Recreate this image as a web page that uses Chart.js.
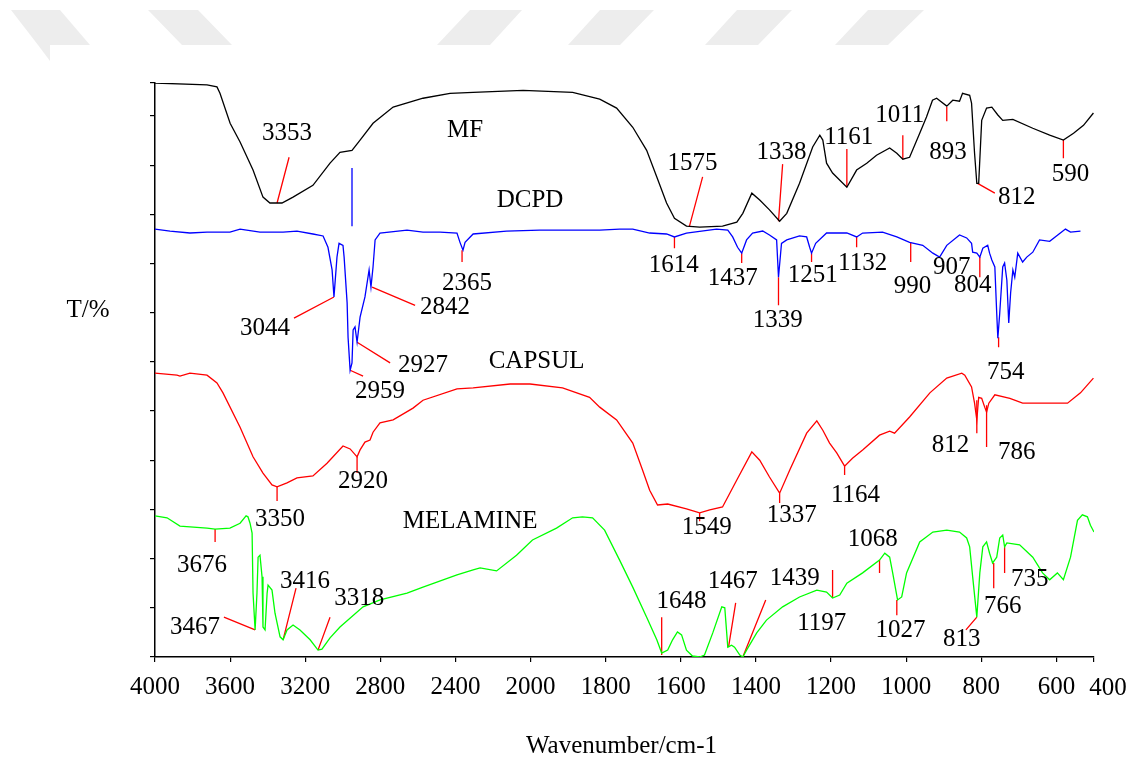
<!DOCTYPE html>
<html>
<head>
<meta charset="utf-8">
<title>FTIR spectra</title>
<script src="https://cdn.jsdelivr.net/npm/chart.js@4.4.0/dist/chart.umd.min.js"></script>
<style>
  html, body { margin:0; padding:0; background:#fff; }
  #wrap { position:relative; width:1134px; height:760px; }
</style>
</head>
<body>
<div id="wrap"><canvas id="ftir"></canvas></div>
<script>
// --- axis -----------------------------------------------------------------
const X_TICK_LABELS = [4000, 3600, 3200, 2800, 2400, 2000, 1800, 1600, 1400, 1200, 1000, 800, 600, 400];
// the wavenumber axis is broken: 4000-2000 is compressed, 2000-600 expanded, 600-400 compressed
const AXIS_BREAK_WN  = [4000, 2000, 600, 400];
const AXIS_BREAK_POS = [0, 5, 12, 12.5];
const Y_MAX = 11.67;

// --- spectra (wavenumber cm-1 / transmittance, offset units) -------------
const MF_WN = [4000,3723,3670,3654,3600,3547,3478,3425,3388,3324,3265,3159,3068,3015,2951,2908,2839,2732,2573,2429,2306,2040,1888,1816,1771,1728,1691,1664,1638,1617,1585,1550,1489,1451,1435,1411,1390,1364,1337,1318,1284,1249,1230,1222,1212,1196,1158,1132,1105,1079,1044,1025,1009,991,964,946,930,919,892,876,858,850,831,826,818,812,807,799,786,772,756,743,716,663,618,563,509,456,403];
const MF_T  = [11.67,11.63,11.59,11.46,10.85,10.47,9.90,9.35,9.23,9.23,9.35,9.59,10.04,10.26,10.30,10.51,10.85,11.18,11.36,11.46,11.48,11.52,11.48,11.34,11.16,10.77,10.30,9.76,9.23,8.92,8.76,8.74,8.76,8.84,9.02,9.43,9.29,9.09,8.86,9.02,9.63,10.37,10.61,10.51,10.04,9.84,9.55,9.90,10.04,10.20,10.35,10.24,10.12,10.16,10.65,10.98,11.32,11.36,11.20,11.32,11.30,11.46,11.42,11.26,10.24,9.63,9.63,10.91,11.16,11.18,11.02,10.91,10.93,10.75,10.61,10.51,10.65,10.81,11.06];

const DCPD_WN = [4000,3920,3814,3723,3601,3547,3441,3318,3244,3159,3105,3079,3057,3047,3031,3020,2999,2993,2977,2972,2961,2951,2945,2935,2924,2908,2882,2860,2850,2839,2828,2802,2658,2573,2482,2392,2376,2360,2349,2306,2128,1976,1816,1763,1728,1683,1638,1617,1585,1505,1475,1462,1449,1438,1425,1409,1382,1364,1345,1340,1332,1318,1284,1265,1257,1252,1241,1212,1158,1132,1116,1063,1025,991,956,929,911,892,858,839,826,823,812,804,796,783,778,772,764,759,756,751,743,738,732,727,722,716,711,703,690,679,663,645,618,552,525,472];
const DCPD_T  = [8.70,8.66,8.62,8.64,8.64,8.70,8.64,8.64,8.66,8.60,8.56,8.33,7.87,7.32,8.13,8.41,8.37,8.13,7.20,6.50,5.83,5.98,6.65,6.71,6.40,6.91,7.32,7.87,7.52,7.93,8.48,8.62,8.68,8.64,8.64,8.62,8.43,8.27,8.43,8.60,8.66,8.68,8.68,8.70,8.70,8.62,8.60,8.54,8.62,8.70,8.68,8.54,8.33,8.21,8.48,8.62,8.66,8.58,8.48,7.72,8.41,8.48,8.56,8.54,8.33,8.21,8.41,8.62,8.62,8.54,8.62,8.64,8.54,8.43,8.37,8.21,8.13,8.37,8.58,8.52,8.41,8.23,8.21,8.13,8.31,8.37,8.21,8.07,7.93,6.99,6.48,6.99,7.93,8.01,7.66,6.79,7.40,7.87,7.72,8.21,8.03,8.13,8.23,8.48,8.45,8.70,8.64,8.66];
const DCPD_MARK_WN = [2951, 2951];
const DCPD_MARK_T  = [9.94, 8.76];

const CAPSUL_WN = [4000,3883,3867,3814,3723,3670,3638,3547,3478,3425,3377,3350,3297,3244,3159,3084,2999,2961,2924,2908,2882,2855,2839,2802,2732,2626,2573,2392,2306,2109,2003,1915,1843,1816,1771,1728,1702,1683,1662,1635,1585,1550,1523,1489,1451,1411,1390,1364,1337,1310,1265,1238,1222,1204,1185,1164,1143,1116,1071,1044,1031,991,937,892,852,844,826,818,812,807,799,791,786,780,764,724,690,541,472,403];
const CAPSUL_T  = [5.77,5.73,5.71,5.77,5.73,5.57,5.37,4.67,4.07,3.74,3.50,3.46,3.54,3.64,3.68,3.94,4.29,4.23,4.07,4.21,4.37,4.41,4.57,4.76,4.82,5.06,5.22,5.45,5.47,5.55,5.55,5.47,5.28,5.08,4.82,4.35,3.80,3.39,3.09,3.11,3.01,2.93,2.99,3.05,3.60,4.17,4.00,3.66,3.33,3.80,4.55,4.80,4.61,4.35,4.15,3.88,4.04,4.21,4.51,4.59,4.55,4.88,5.37,5.67,5.77,5.73,5.49,5.16,4.82,5.28,5.26,5.08,4.98,5.16,5.33,5.26,5.16,5.16,5.37,5.67];

const MELAMINE_WN = [4000,3936,3867,3723,3680,3601,3547,3515,3505,3494,3483,3478,3467,3457,3451,3441,3430,3425,3414,3403,3398,3377,3361,3334,3318,3297,3265,3228,3174,3132,3111,3068,3015,2892,2802,2658,2573,2392,2306,2269,2181,2075,1995,1931,1888,1862,1835,1803,1763,1728,1691,1664,1651,1635,1622,1609,1598,1585,1569,1550,1537,1515,1491,1483,1475,1465,1457,1443,1435,1425,1398,1372,1329,1284,1238,1212,1196,1177,1158,1116,1071,1057,1044,1036,1023,1012,999,964,929,892,858,839,831,823,812,804,796,786,778,770,759,751,743,738,732,698,663,637,618,595,563,525,488,462,435,419,400];
const MELAMINE_T  = [2.87,2.83,2.66,2.62,2.60,2.62,2.72,2.87,2.85,2.72,2.52,1.30,0.55,1.30,2.03,2.07,1.63,0.61,0.55,1.30,1.46,1.36,0.89,0.41,0.35,0.55,0.65,0.55,0.35,0.14,0.16,0.39,0.61,1.02,1.16,1.30,1.42,1.67,1.77,1.81,1.75,2.07,2.38,2.62,2.83,2.85,2.83,2.58,1.97,1.42,0.81,0.35,0.08,0.14,0.35,0.51,0.45,0.14,0.02,0.00,0.04,0.49,1.02,1.00,0.20,0.24,0.20,0.04,0.00,0.14,0.49,0.75,1.02,1.22,1.36,1.32,1.20,1.26,1.50,1.71,1.97,2.11,2.03,1.71,1.16,1.22,1.71,2.34,2.54,2.58,2.54,2.42,2.24,1.63,0.81,1.71,2.24,2.34,2.11,1.91,2.03,2.42,2.48,2.24,2.32,2.28,2.03,1.71,1.57,1.71,1.57,2.03,2.78,2.89,2.85,2.68,2.54];

// --- peak labels: text, leader from (wn,t) to (wn,t), text at (wn,t); leader null = no leader
const PEAKS_MF = [
  ['3353', 3350, 9.23, 3286, 10.16, 3297, 10.65],
  ['1575', 1577, 8.76, 1542, 9.76, 1569, 10.04],
  ['1338', 1340, 8.86, 1329, 10.02, 1332, 10.26],
  ['1161', 1158, 9.57, 1158, 10.33, 1153, 10.57],
  ['1011', 1009, 10.12, 1009, 10.61, 1017, 11.02],
  ['893', 892, 11.18, 892, 10.89, 889, 10.26],
  ['812', 810, 9.63, 764, 9.43, 706, 9.35],
  ['590', 563, 10.51, 563, 10.14, 525, 9.82],
];
const PEAKS_DCPD = [
  ['3044', 3047, 7.32, 3260, 6.89, 3414, 6.67],
  ['2842', 2844, 7.52, 2615, 7.15, 2456, 7.11],
  ['2365', 2365, 8.27, 2365, 8.03, 2338, 7.60],
  ['2927', 2924, 6.40, 2748, 5.98, 2573, 5.93],
  ['2959', 2961, 5.83, 2892, 5.71, 2802, 5.39],
  ['1614', 1617, 8.54, 1617, 8.31, 1619, 7.97],
  ['1437', 1438, 8.21, 1438, 8.01, 1462, 7.70],
  ['1339', 1340, 7.72, 1340, 7.15, 1342, 6.85],
  ['1251', 1252, 8.21, 1252, 8.03, 1249, 7.76],
  ['1132', 1132, 8.56, 1132, 8.33, 1116, 8.01],
  ['990', 988, 8.43, 988, 8.03, 983, 7.54],
  ['907', null, null, null, null, 879, 7.93],
  ['804', 804, 8.13, 804, 7.72, 823, 7.56],
  ['754', 754, 6.50, 754, 6.30, 735, 5.79],
];
const PEAKS_CAPSUL = [
  ['3350', 3350, 3.46, 3350, 3.17, 3334, 2.80],
  ['2920', 2924, 4.07, 2924, 3.74, 2892, 3.56],
  ['1549', 1550, 2.93, 1550, 2.76, 1531, 2.64],
  ['1337', 1337, 3.33, 1337, 3.13, 1305, 2.87],
  ['1164', 1164, 3.88, 1164, 3.70, 1135, 3.29],
  ['812', 812, 5.22, 812, 4.55, 882, 4.31],
  ['786', 786, 5.12, 786, 4.27, 706, 4.15],
];
const PEAKS_MELAMINE = [
  ['3676', 3680, 2.60, 3680, 2.34, 3750, 1.87],
  ['3467', 3467, 0.55, 3633, 0.81, 3787, 0.61],
  ['3416', 3318, 0.35, 3249, 1.40, 3201, 1.54],
  ['3318', 3132, 0.14, 3068, 0.81, 2913, 1.20],
  ['1648', 1651, 0.04, 1651, 0.81, 1598, 1.12],
  ['1467', 1473, 0.20, 1454, 1.10, 1462, 1.54],
  ['1439', 1435, 0.00, 1374, 1.16, 1297, 1.59],
  ['1197', 1196, 1.20, 1196, 1.77, 1225, 0.69],
  ['1068', 1071, 1.97, 1071, 1.71, 1089, 2.38],
  ['1027', 1025, 1.16, 1025, 0.85, 1015, 0.55],
  ['813', 812, 0.81, 841, 0.55, 852, 0.35],
  ['766', 767, 1.91, 767, 1.40, 743, 1.02],
  ['735', 738, 2.24, 738, 1.71, 671, 1.57],
];

const SERIES_NAMES   = ['MF', 'DCPD', 'CAPSUL', 'MELAMINE'];
const SERIES_NAME_WN = [2349, 2003, 1984, 2322];
const SERIES_NAME_T  = [10.71, 9.29, 6.00, 2.76];

// --------------------------------------------------------------------------
const SERIF = '"Liberation Serif", "Times New Roman", serif';
const LAST_TICK = X_TICK_LABELS.length - 1;

function wnPos(w){
  const n = AXIS_BREAK_WN.length;
  for(let i=0;i<n-1;i++){
    const a = AXIS_BREAK_WN[i], b = AXIS_BREAK_WN[i+1];
    if(w >= b || i === n-2){
      return AXIS_BREAK_POS[i] + (a-w)/(a-b)*(AXIS_BREAK_POS[i+1]-AXIS_BREAK_POS[i]);
    }
  }
}
const pts = (wn, t) => wn.map((w,i) => ({ x: wnPos(w), y: t[i] }));

function leaderPoints(){
  const out = [];
  [PEAKS_MF, PEAKS_DCPD, PEAKS_CAPSUL, PEAKS_MELAMINE].forEach(list => list.forEach(p => {
    if(p[1] == null) return;
    out.push({ x: wnPos(p[1]), y: p[2] }, { x: wnPos(p[3]), y: p[4] }, { x: wnPos(p[3]), y: null });
  }));
  return out;
}

function spectrum(label, data, color){
  return { label, data, borderColor: color, borderWidth: 1.3, pointRadius: 0, showLine: true, tension: 0, fill: false };
}

// grey banner pieces above the plot (top edge y=10, bottom edge y=45)
const bannerPlugin = {
  id: 'banner',
  beforeDraw(chart){
    const ctx = chart.ctx;
    const pieces = [[11,60,38,90],[148,198,182,232],[470,522,437,490],[600,654,568,620],[737,792,705,758],[868,924,835,888]];
    ctx.save();
    ctx.fillStyle = '#ededed';
    pieces.forEach(([t0,t1,b0,b1]) => {
      ctx.beginPath(); ctx.moveTo(t0,10); ctx.lineTo(t1,10); ctx.lineTo(b1,45); ctx.lineTo(b0,45); ctx.closePath(); ctx.fill();
    });
    ctx.beginPath(); ctx.moveTo(38,45); ctx.lineTo(50,45); ctx.lineTo(50,61); ctx.closePath(); ctx.fill();
    ctx.restore();
  }
};

const textPlugin = {
  id: 'peakText',
  afterDatasetsDraw(chart){
    const { ctx, scales:{ x, y } } = chart;
    ctx.save();
    ctx.fillStyle = '#000';
    ctx.font = `25px ${SERIF}`;
    ctx.textAlign = 'center';
    ctx.textBaseline = 'middle';
    [PEAKS_MF, PEAKS_DCPD, PEAKS_CAPSUL, PEAKS_MELAMINE].forEach(list => list.forEach(p => {
      ctx.fillText(p[0], x.getPixelForValue(wnPos(p[5])), y.getPixelForValue(p[6]));
    }));
    SERIES_NAMES.forEach((n,i) => {
      ctx.fillText(n, x.getPixelForValue(wnPos(SERIES_NAME_WN[i])), y.getPixelForValue(SERIES_NAME_T[i]));
    });
    // last tick label sits a little right of its tick, clear of "600"
    ctx.fillText(String(X_TICK_LABELS[LAST_TICK]), x.getPixelForValue(wnPos(X_TICK_LABELS[LAST_TICK])) + 14, y.bottom + 31);
    // axis titles
    ctx.fillText('T/%', 88, (y.top + y.bottom)/2 - 60);
    ctx.fillText('Wavenumber/cm-1', (x.left + x.right)/2 - 3, 746);
    ctx.restore();
  }
};

const axisGrid = { drawOnChartArea:false, drawTicks:true, tickLength:5, color:'#000', lineWidth:1.2 };
const axisBorder = { display:true, color:'#000', width:1.5 };

new Chart(document.getElementById('ftir'), {
  type: 'scatter',
  data: {
    datasets: [
      spectrum('MF', pts(MF_WN, MF_T), '#000000'),
      spectrum('DCPD', pts(DCPD_WN, DCPD_T), '#0000ff'),
      spectrum('DCPD mark', pts(DCPD_MARK_WN, DCPD_MARK_T), '#0000ff'),
      spectrum('CAPSUL', pts(CAPSUL_WN, CAPSUL_T), '#ff0000'),
      spectrum('MELAMINE', pts(MELAMINE_WN, MELAMINE_T), '#00ff00'),
      Object.assign(spectrum('peaks', leaderPoints(), '#ff0000'), { spanGaps:false }),
    ]
  },
  options: {
    responsive: true,
    maintainAspectRatio: false,
    animation: false,
    layout: { padding: { top:83, right:40, left:0, bottom:0 } },
    plugins: { legend:{ display:false }, tooltip:{ enabled:false } },
    scales: {
      x: {
        type: 'linear', min: 0, max: AXIS_BREAK_POS[AXIS_BREAK_POS.length-1],
        afterBuildTicks: s => { s.ticks = X_TICK_LABELS.map(v => ({ value: wnPos(v) })); },
        afterFit: s => { s.height = 103; },
        ticks: { autoSkip:false, maxRotation:0, padding:10, color:'#000', font:{ family:SERIF, size:25 },
                 callback: (v, i) => i === LAST_TICK ? '' : X_TICK_LABELS[i] },
        grid: axisGrid, border: axisBorder
      },
      y: {
        min: 0, max: Y_MAX,
        afterFit: s => { s.width = 155; },
        ticks: { stepSize:1, display:false },
        grid: axisGrid, border: axisBorder
      }
    }
  },
  plugins: [bannerPlugin, textPlugin]
});
</script>
</body>
</html>
